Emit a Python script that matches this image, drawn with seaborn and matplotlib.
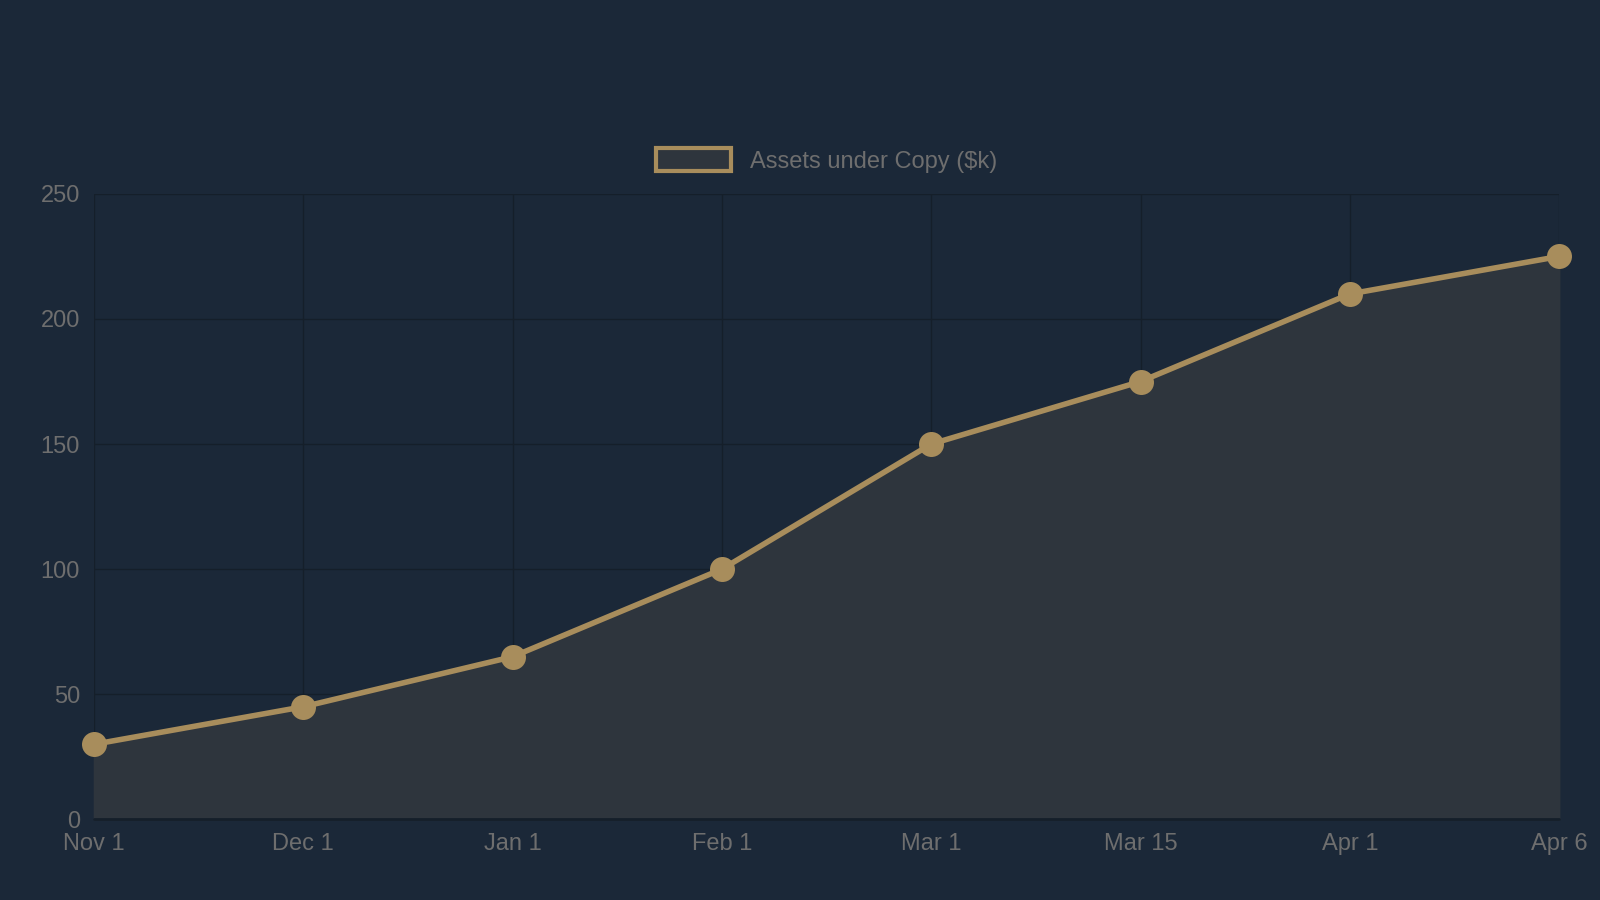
import matplotlib
matplotlib.use("Agg")
import matplotlib.pyplot as plt
import seaborn as sns
import pandas as pd
from matplotlib.patches import Patch

labels = ["Nov 1", "Dec 1", "Jan 1", "Feb 1", "Mar 1", "Mar 15", "Apr 1", "Apr 6"]
values = [30, 45, 65, 100, 150, 175, 210, 225]
series_name = "Assets under Copy ($k)"

bg = "#1b2838"
gold = "#a88d5c"
fill = "#2e353d"
grid = "#151f2a"
txt = "#6e6e6e"

sns.set_theme(style="dark")
plt.rcParams['font.family'] = ['Liberation Sans', 'DejaVu Sans']

df = pd.DataFrame({"x": range(len(labels)), "y": values})
fig = plt.figure(figsize=(16, 9), dpi=100, facecolor=bg)
ax = fig.add_axes([0.0587, 0.0896, 0.9158, 0.695])
ax.set_facecolor(bg)
ax.fill_between(df["x"], df["y"], 0, color=fill, zorder=1)
sns.lineplot(data=df, x="x", y="y", ax=ax, color=gold, linewidth=4, marker="o",
             markersize=18, markeredgewidth=0, zorder=3)
ax.set_xlim(0, len(labels) - 1)
ax.set_ylim(0, 250)
ax.set_xticks(range(len(labels)))
ax.set_xticklabels(labels)
ax.set_yticks(range(0, 251, 50))
ax.grid(True, color=grid, linewidth=1)
for s in ax.spines.values():
    s.set_visible(False)
ax.axhline(0, color=grid, linewidth=2, zorder=2)
ax.tick_params(colors=txt, labelsize=17, length=0, pad=10)
for lab in ax.get_xticklabels() + ax.get_yticklabels():
    lab.set_color(txt)
ax.set_xlabel("")
ax.set_ylabel("")
for c in ax.collections:
    c.set_clip_on(False)
for l in ax.lines:
    l.set_clip_on(False)
leg = ax.legend(handles=[Patch(facecolor=fill, edgecolor=gold, linewidth=3, label=series_name)],
                loc="lower center", bbox_to_anchor=(0.5, 1.0), frameon=False,
                fontsize=17, handlelength=3.2, handleheight=1.1, labelcolor=txt)
fig.savefig("out.png", facecolor=bg)
